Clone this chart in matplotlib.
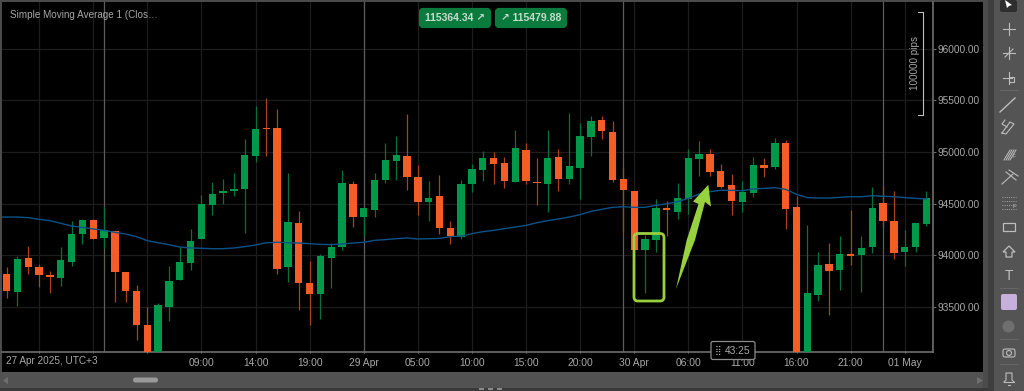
import matplotlib
matplotlib.use("Agg")
import matplotlib.pyplot as plt
from matplotlib.patches import Rectangle, FancyBboxPatch, Polygon, Circle

# candles
opens = [93820,93642,93975,93881,93804,93778,93936,94208,94340,94169,94230,93833,93652,93322,92900,93500,93762,93923,94153,94489,
         94605,94621,94644,94964,95235,95232,93885,94314,93726,93626,93975,94075,94692,94366,94434,94725,94915,94961,94760,94518,
         94570,94263,94175,94686,94825,94938,94889,94712,95019,94705,94686,94951,94741,94847,95148,95309,95196,94738,94621,94053,
         94143,94453,94421,94547,94931,94977,94815,94676,94518,94599,94876,94854,95083,94463,92900,93616,93914,93852,94011,94001,
         94075,94508,94327,94030,94082,94301]
highs = [93881,93991,94088,93914,93843,94078,94330,94350,94347,94476,94230,93833,93707,93500,93532,93897,94075,94253,94582,94709,
         94738,94793,95125,95445,95519,95416,94799,94424,93940,94007,94114,94825,94718,94456,94793,95090,95154,95368,94873,94718,
         94776,94327,94728,94883,95009,95000,94951,95212,95083,94944,95212,95028,95374,95284,95348,95348,95303,94854,94621,94195,
         94547,94524,94699,95028,95106,95028,94883,94786,94718,94951,94938,95135,95116,94573,94288,94030,94114,94188,94437,94182,
         94657,94670,94624,94243,94311,94618]
lows = [93587,93510,93820,93694,93636,93704,93897,94104,94159,94072,93549,93549,93180,92800,92800,93365,93762,93852,94153,94389,
        94495,94573,94217,94906,94964,93817,93742,93471,93326,93381,93684,94053,94275,94179,94366,94696,94731,94634,94389,94327,
        94204,94104,94159,94612,94718,94686,94647,94712,94686,94489,94421,94618,94692,94541,94964,95122,94712,94224,94053,93636,
        94030,94185,94353,94395,94770,94770,94647,94389,94421,94566,94754,94831,94250,92800,92800,93555,93423,93662,93904,93646,
        94023,94275,93959,93897,94033,94285]
closes = [93649,93965,93885,93810,93784,93949,94201,94340,94159,94240,93839,93649,93326,92900,93516,93752,93933,94133,94492,94592,
          94618,94641,94973,95225,95222,93862,94324,93733,93626,93988,94075,94699,94366,94456,94731,94922,94967,94754,94511,94553,
          94259,94188,94686,94831,94938,94886,94718,95035,94718,94696,94944,94741,94860,95151,95296,95200,94731,94634,94053,94156,
          94456,94437,94553,94944,94977,94802,94663,94528,94615,94870,94847,95083,94450,92900,93629,93904,93846,94011,93991,94066,
          94456,94327,94023,94078,94311,94553]
sma = [94369,94369,94363,94347,94334,94308,94282,94269,94253,94240,94221,94204,94179,94140,94120,94101,94078,94069,94066,94062,
       94062,94069,94082,94098,94120,94124,94120,94117,94111,94104,94101,94108,94117,94124,94143,94150,94159,94166,94156,94159,
       94162,94179,94185,94208,94227,94240,94256,94272,94288,94314,94334,94350,94369,94392,94424,94444,94463,94469,94463,94463,
       94482,94498,94518,94550,94592,94615,94628,94628,94624,94641,94647,94653,94637,94589,94557,94553,94553,94560,94566,94566,
       94576,94570,94566,94557,94550,94544]

price_ticks = [93500, 94000, 94500, 95000, 95500, 96000]
time_pos = [18, 23, 28, 33, 38, 43, 48, 53, 58, 63, 68, 73, 78, 83]
time_labels = ["09:00", "14:00", "19:00", "29 Apr", "05:00", "10:00", "15:00", "20:00",
               "30 Apr", "06:00", "11:00", "16:00", "21:00", "01 May"]
minor_grid = [3, 8, 13]
day_lines = [9, 33, 57, 81]

W, H = 1024, 391
font = ["Liberation Sans", "DejaVu Sans"]
GREEN, RED = "#00994a", "#f45d26"
WICK_G, WICK_R = "#08703a", "#a8431d"
TXT = "#a8a8a8"

fig = plt.figure(figsize=(W / 100, H / 100), dpi=100, facecolor="#4b4b4b")

# whole-figure layer in pixels, for the window around the chart
bg = fig.add_axes([0, 0, 1, 1], zorder=0)
bg.set_xlim(0, W)
bg.set_ylim(H, 0)
bg.axis("off")
bg.add_patch(Rectangle((2, 2), 981, 370, color="black", lw=0))
bg.add_patch(Rectangle((0, 372), 983, 16, color="#525252", lw=0))
bg.add_patch(Rectangle((0, 388), 1024, 3, color="#3a3a3a", lw=0))
bg.add_patch(Rectangle((988, 0), 6, H, color="#3e3e3e", lw=0))
bg.add_patch(Rectangle((994, 0), 30, H, color="#545454", lw=0))

# main chart
ax = fig.add_axes([2 / W, 1 - 352 / H, 931 / W, 350 / H], zorder=1)
ax.set_facecolor("black")
ax.set_xlim((2 - 6.67) / 10.82, (933 - 6.67) / 10.82)
ax.set_ylim(93061, 96453)
for s in ["top", "left"]:
    ax.spines[s].set_visible(False)
ax.spines["right"].set_color("#6e6e6e")
ax.spines["bottom"].set_color("#6e6e6e")
ax.spines["right"].set_linewidth(1.2)
ax.spines["bottom"].set_linewidth(1.2)

ax.yaxis.tick_right()
ax.set_yticks(price_ticks)
ax.set_yticklabels(["%.2f" % p for p in price_ticks], fontfamily=font, fontsize=7.3, color=TXT)
ax.tick_params(axis="y", length=2, width=0.7, color="#6e6e6e", pad=1.5)
ax.set_xticks(minor_grid + time_pos)
ax.set_xticklabels(["", "", ""] + time_labels, fontfamily=font, fontsize=7.4, color=TXT)
ax.tick_params(axis="x", length=2, width=0.7, color="#8a8a8a", pad=3, direction="inout")
ax.grid(True, color="#1d1d1d", lw=0.9)
ax.set_axisbelow(True)

for d in day_lines:
    ax.axvline(d, color="#5c5c5c", lw=0.9, zorder=1)

# the average runs in from the left edge of the chart
ax.plot([ax.get_xlim()[0]] + list(range(len(sma))), sma[:1] + sma, color="#0b5288", lw=1.0, zorder=4)

for i in range(len(opens)):
    up = closes[i] >= opens[i]
    ax.vlines(i, lows[i], highs[i], color=WICK_G if up else WICK_R, lw=0.9, zorder=2)
    ax.bar(i, abs(closes[i] - opens[i]), bottom=min(opens[i], closes[i]), width=0.68,
           color=GREEN if up else RED, lw=0, zorder=3)

# overlay in pixels: labels and drawings on top of the chart
top = fig.add_axes([0, 0, 1, 1], zorder=2)
top.set_xlim(0, W)
top.set_ylim(H, 0)
top.axis("off")
top.patch.set_alpha(0)

top.text(10, 15.5, "Simple Moving Average 1 (Clos…", family=font, size=7.1, color=TXT, va="center")
top.text(6.5, 361, "27 Apr 2025, UTC+3", family=font, size=7.2, color=TXT, va="center")

for x0, x1, s in [(419, 491, "115364.34 ↗"), (495, 567, "↗ 115479.88")]:
    top.add_patch(FancyBboxPatch((x0 + 2, 10), x1 - x0 - 4, 16, boxstyle="round,pad=0,rounding_size=2",
                                 mutation_aspect=1, fc="#0a7a3d", ec="#0a7a3d", lw=3))
    top.text((x0 + x1) / 2, 18, s, family=font, size=7.5, weight="bold",
             color="#c6dccd", ha="center", va="center")

# measuring bracket
top.plot([918, 922.5, 922.5, 918], [12, 12, 115, 115], color="#c0c0c0", lw=0.8)
top.text(915, 63, "100000 pips", family=font, size=7.1, color=TXT, rotation=90, ha="center", va="center")

# highlight box and arrow
top.add_patch(FancyBboxPatch((634, 233.5), 30, 67.5, boxstyle="round,pad=0,rounding_size=4",
                             fc="none", ec="#98d13f", lw=2))
top.add_patch(Polygon([(676, 289), (686.7, 240), (698.5, 204), (693, 201.5), (708.3, 184.7), (711, 206.5),
                       (705, 202), (695, 240)],
                      closed=True, fc="#98d13f", ec="none"))

# countdown box
top.add_patch(FancyBboxPatch((711, 341.5), 44, 18, boxstyle="round,pad=0,rounding_size=2",
                             fc="black", ec="#8c8c8c", lw=0.9))
top.text(718, 350.5, "⣿", family=["DejaVu Sans"], size=6.5, color=TXT, ha="center", va="center")
top.text(738, 350.5, "43:25", family=font, size=7.4, color=TXT, ha="center", va="center")

# scrollbar
top.add_patch(FancyBboxPatch((133, 377.5), 25, 5, boxstyle="round,pad=0,rounding_size=2.5",
                             fc="#9a9a9a", ec="none"))
top.add_patch(Polygon([(3, 380.5), (8, 377), (8, 384)], fc="#6f6f6f", ec="none"))
top.add_patch(Polygon([(983, 380.5), (977, 377), (977, 384)], fc="#6f6f6f", ec="none"))
for x in [479, 488, 497]:
    top.add_patch(Rectangle((x, 388), 5, 2, color="#8a8a8a", lw=0))

# toolbar
IC = "#bdbdbd"
top.add_patch(FancyBboxPatch((1000, 0), 17, 12, boxstyle="round,pad=0,rounding_size=2", fc="#2e2e2e", ec="none"))
top.add_patch(Polygon([(1005, 0), (1012, 5), (1009, 6), (1007, 8)], fc="white", ec="none"))
top.plot([1003, 1015], [29, 29], color=IC, lw=0.8)
top.plot([1009, 1009], [23, 35], color=IC, lw=0.8)
top.plot([1003, 1015], [53, 53], color=IC, lw=0.8)
top.plot([1009, 1009], [47, 59], color=IC, lw=0.8)
top.plot([1005, 1013], [57, 49], color=IC, lw=0.8)
top.plot([1003, 1012], [78, 78], color=IC, lw=0.8)
top.plot([1009, 1009], [72, 84], color=IC, lw=0.8)
top.add_patch(Rectangle((1009, 77), 5, 5, fc="none", ec=IC, lw=0.8))
top.plot([1000, 1015], [112, 98], color=IC, lw=1.0)
top.plot([1002, 1006, 1014, 1010, 1002], [133, 134, 124, 122, 133], color=IC, lw=0.8)
top.plot([1005, 1002, 1007], [120, 124, 127], color=IC, lw=0.8)
for k in range(4):
    top.plot([1004 + 2 * k, 1010 + 2 * k], [160, 150], color=IC, lw=0.7)
top.text(1014, 157, "F", family=font, size=3.5, color=IC, ha="center", va="center")
top.plot([1002, 1013], [184, 174], color=IC, lw=0.8)
top.plot([1006, 1016], [172, 180], color=IC, lw=0.8)
top.plot([1009, 1018], [170, 176], color=IC, lw=0.8)
for yy in [197, 201, 205, 209]:
    top.plot([1002, 1016], [yy, yy], color=IC, lw=0.6, ls=":")
top.text(1014, 206, "F", family=font, size=4, color=IC, ha="center", va="center")
top.add_patch(Rectangle((1003, 223), 12, 8, fc="none", ec=IC, lw=0.9))
top.add_patch(Polygon([(1009, 246), (1015, 252), (1012, 252), (1012, 257), (1006, 257), (1006, 252), (1003, 252)],
                      closed=True, fc="none", ec=IC, lw=0.9))
top.text(1009, 276, "T", family=font, size=10, color=IC, ha="center", va="center")
top.add_patch(FancyBboxPatch((1001, 294), 16, 16, boxstyle="round,pad=0,rounding_size=2", fc="#c8b0dc", ec="none"))
top.add_patch(Circle((1008.5, 326.5), 6, fc="#6f6f6f", ec="none"))
top.add_patch(FancyBboxPatch((1003, 349), 12, 8, boxstyle="round,pad=0,rounding_size=2", fc="none", ec=IC, lw=0.8))
top.add_patch(Circle((1009, 353), 2.5, fc="none", ec=IC, lw=0.8))
top.plot([1004, 1006, 1006, 1012, 1012, 1014], [382, 380, 373, 373, 380, 382], color=IC, lw=0.8)
top.plot([1004, 1014], [382, 382], color=IC, lw=0.8)
top.plot([1008, 1010], [384.5, 384.5], color=IC, lw=0.8)
for yy in [90, 288, 339, 364]:
    top.plot([1000, 1018], [yy, yy], color="#6a6a6a", lw=0.6)

plt.savefig("out.png", dpi=100, facecolor=fig.get_facecolor())
